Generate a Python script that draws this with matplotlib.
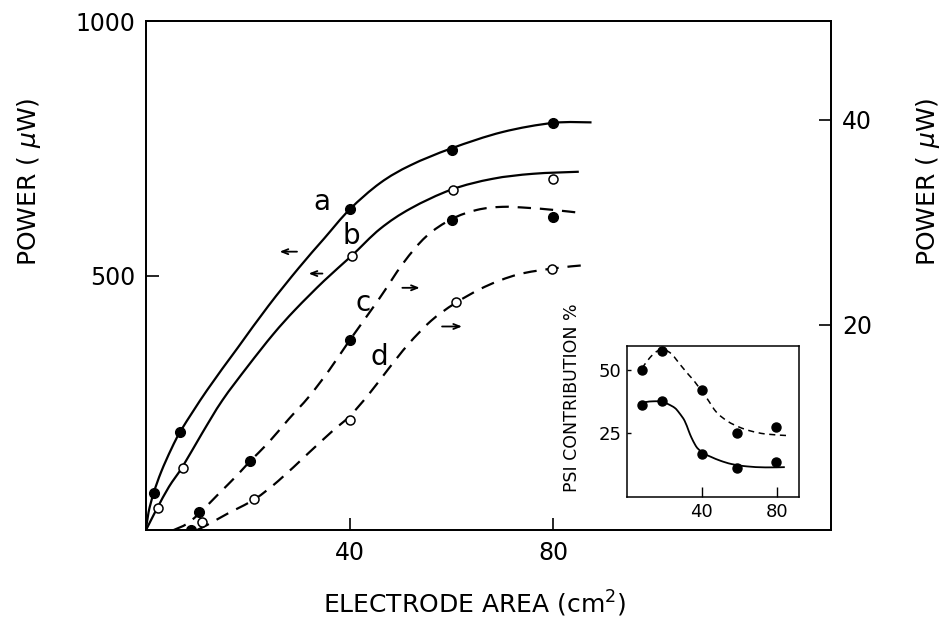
#!/usr/bin/env python3
"""
Power vs electrode area (curves a-d) with PSI contribution inset.
"""
import matplotlib
matplotlib.use("Agg")
import matplotlib.pyplot as plt
from matplotlib.path import Path
from matplotlib.patches import PathPatch

# measured points, x = electrode area (cm2)
a_x = [1.5, 6.7, 40, 60, 80]
a_y = [73, 193, 630, 747, 799]            # uW, left axis
b_x = [2.3, 7.2, 40.4, 60.2, 80]
b_y = [43, 122, 539, 669, 689]            # uW, left axis
c_x = [8.8, 10.4, 20.4, 40, 60, 80]
c_y = [0, 1.8, 6.7, 18.5, 30.2, 30.5]     # uW, right axis
d_x = [11, 21.3, 40, 60.8, 79.8]
d_y = [0.8, 3.0, 10.7, 22.2, 25.4]        # uW, right axis

# hand drawn curves
a_cx = [0, 0.5, 1.5, 3, 5, 7, 12, 18, 24, 30, 35, 40, 46, 52, 60, 70, 80, 87.5]
a_cy = [0, 35, 73, 115, 160, 198, 275, 358, 440, 515, 573, 630, 682, 717, 750, 782, 800, 801]
b_cx = [0, 1, 2.3, 4.5, 7.2, 11, 15, 20, 25, 29.3, 35, 40.4, 46, 52, 60, 68, 76, 85]
b_cy = [0, 20, 45, 85, 125, 190, 255, 322, 385, 433, 490, 539, 592, 632, 669, 690, 700, 704]
c_cx = [5.4, 8, 10.4, 14, 18, 20.4, 24, 28, 32, 36, 40, 45.6, 50.5, 55, 60, 65, 70, 75, 80, 85.5]
c_cy = [0, 0.6, 1.6, 3.4, 5.4, 6.7, 8.5, 10.8, 13.0, 15.6, 18.5, 22.4, 26.0, 28.6, 30.3, 31.2, 31.5, 31.4, 31.2, 30.9]
d_cx = [10, 12, 16, 21.3, 26, 31.9, 36.5, 40, 43.7, 47.6, 51.5, 56, 60.7, 66.5, 73, 80, 85.8]
d_cy = [0, 0.5, 1.6, 3.0, 4.8, 7.5, 9.6, 11.1, 13.2, 15.7, 18.1, 20.4, 22.1, 23.7, 24.9, 25.5, 25.8]

# inset: PSI contribution (%)
psi_x = [8, 18.6, 40, 58.6, 79.6]
psi_hi = [49.7, 57.3, 42.2, 25.0, 27.7]
psi_lo = [36.3, 37.6, 17.1, 11.3, 13.8]
hi_cx = [8, 12, 16, 20, 24, 29, 33, 36, 40, 43, 48, 54, 60, 66, 74, 85.2]
hi_cy = [50.5, 54.5, 57.2, 57.8, 56, 51.5, 48, 45.5, 41.5, 38.5, 33.2, 29.7, 27.5, 26, 24.8, 24.2]
lo_cx = [6.6, 10, 14, 18.6, 22, 25.6, 28, 30.8, 33, 34.4, 36.5, 38, 41, 45, 50, 56, 64, 74, 84.4]
lo_cy = [36.5, 37.3, 37.6, 37.5, 36.5, 35, 33, 30, 26, 23.5, 20.5, 19, 17.2, 15.8, 14.3, 13, 12.1, 11.7, 11.8]

LABEL_FS = 18
TICK_FS = 17


def __curve(ax, xs, ys, lw, dashes=None):
    """Draw a smooth (Catmull-Rom as bezier) curve through the traced points."""
    pts = list(zip(xs, ys))
    verts = [pts[0]]
    codes = [Path.MOVETO]
    n = len(pts)
    for i in range(n - 1):
        p0 = pts[i - 1] if i > 0 else pts[i]
        p1 = pts[i]
        p2 = pts[i + 1]
        p3 = pts[i + 2] if i + 2 < n else pts[i + 1]
        c1 = (p1[0] + (p2[0] - p0[0]) / 6, p1[1] + (p2[1] - p0[1]) / 6)
        c2 = (p2[0] - (p3[0] - p1[0]) / 6, p2[1] - (p3[1] - p1[1]) / 6)
        verts += [c1, c2, p2]
        codes += [Path.CURVE4] * 3
    patch = PathPatch(Path(verts, codes), fill=False, edgecolor="black", lw=lw,
                      capstyle="butt")
    if dashes:
        patch.set_linestyle((0, dashes))
    ax.add_patch(patch)


def __main_plot(fig):
    ax = fig.add_axes([0.155, 0.145, 0.727, 0.821])
    ax2 = ax.twinx()
    ax.set_xlim(0, 134.5)
    ax.set_ylim(0, 1000)
    ax2.set_ylim(0, 49.6)

    __curve(ax, a_cx, a_cy, 1.6)
    __curve(ax, b_cx, b_cy, 1.6)
    __curve(ax2, c_cx, c_cy, 1.6, (6, 4))
    __curve(ax2, d_cx, d_cy, 1.6, (6, 4))

    ax.plot(a_x, a_y, "o", color="black", ms=7)
    ax.plot(b_x, b_y, "o", mfc="white", mec="black", mew=1.1, ms=6.5)
    ax2.plot(c_x, c_y, "o", color="black", ms=7)
    ax2.plot(d_x, d_y, "o", mfc="white", mec="black", mew=1.1, ms=6.5)

    for lbl, x, y in [("a", 34.5, 644), ("b", 40.4, 577), ("c", 42.7, 447), ("d", 45.9, 341)]:
        ax.text(x, y, lbl, fontsize=20, ha="center", va="center")

    arw = dict(arrowstyle="->,head_length=0.45,head_width=0.18", color="black", lw=1.3)
    ax.annotate("", xy=(25.7, 547), xytext=(30.2, 547), arrowprops=arw)
    ax.annotate("", xy=(31.4, 504), xytext=(35.2, 504), arrowprops=arw)
    ax.annotate("", xy=(54.3, 476), xytext=(49.8, 476), arrowprops=arw)
    ax.annotate("", xy=(62.6, 400), xytext=(57.6, 400), arrowprops=arw)

    ax.set_xticks([40, 80])
    ax.set_yticks([500, 1000])
    ax2.set_yticks([20, 40])
    for a in (ax, ax2):
        a.tick_params(direction="in", length=9, width=1.2, labelsize=TICK_FS, pad=8)
        for s in a.spines.values():
            s.set_linewidth(1.3)

    ax.set_xlabel("ELECTRODE AREA (cm$^2$)", fontsize=LABEL_FS)
    ax.xaxis.set_label_coords(0.48, -0.115)
    ax.set_ylabel("POWER ( $\\mu$W)", fontsize=LABEL_FS)
    ax.yaxis.set_label_coords(-0.15, 0.685)
    ax2.set_ylabel("POWER ( $\\mu$W)", fontsize=LABEL_FS)
    ax2.yaxis.set_label_coords(1.121, 0.685)


def __inset(fig):
    ax = fig.add_axes([0.6656, 0.198, 0.1826, 0.244])
    ax.set_xlim(0, 92)
    ax.set_ylim(0, 59.3)
    __curve(ax, hi_cx, hi_cy, 1.1, (4, 3))
    __curve(ax, lo_cx, lo_cy, 1.3)
    ax.plot(psi_x, psi_hi, "o", color="black", ms=6.5)
    ax.plot(psi_x, psi_lo, "o", color="black", ms=6.5)
    ax.set_xticks([40, 80])
    ax.set_yticks([25, 50])
    ax.tick_params(axis="x", direction="in", length=7, width=1, labelsize=13, pad=4)
    ax.tick_params(axis="y", direction="in", length=3, width=1, labelsize=13, pad=4)
    for s in ax.spines.values():
        s.set_linewidth(1.1)
    ax.set_ylabel("PSI CONTRIBUTION %", fontsize=12.5)
    ax.yaxis.set_label_coords(-0.27, 0.66)


def main():
    fig = plt.figure(figsize=(9.42, 6.2), dpi=100)
    __main_plot(fig)
    __inset(fig)
    fig.savefig("out.png", dpi=100, facecolor="white")


if __name__ == '__main__':
    main()
